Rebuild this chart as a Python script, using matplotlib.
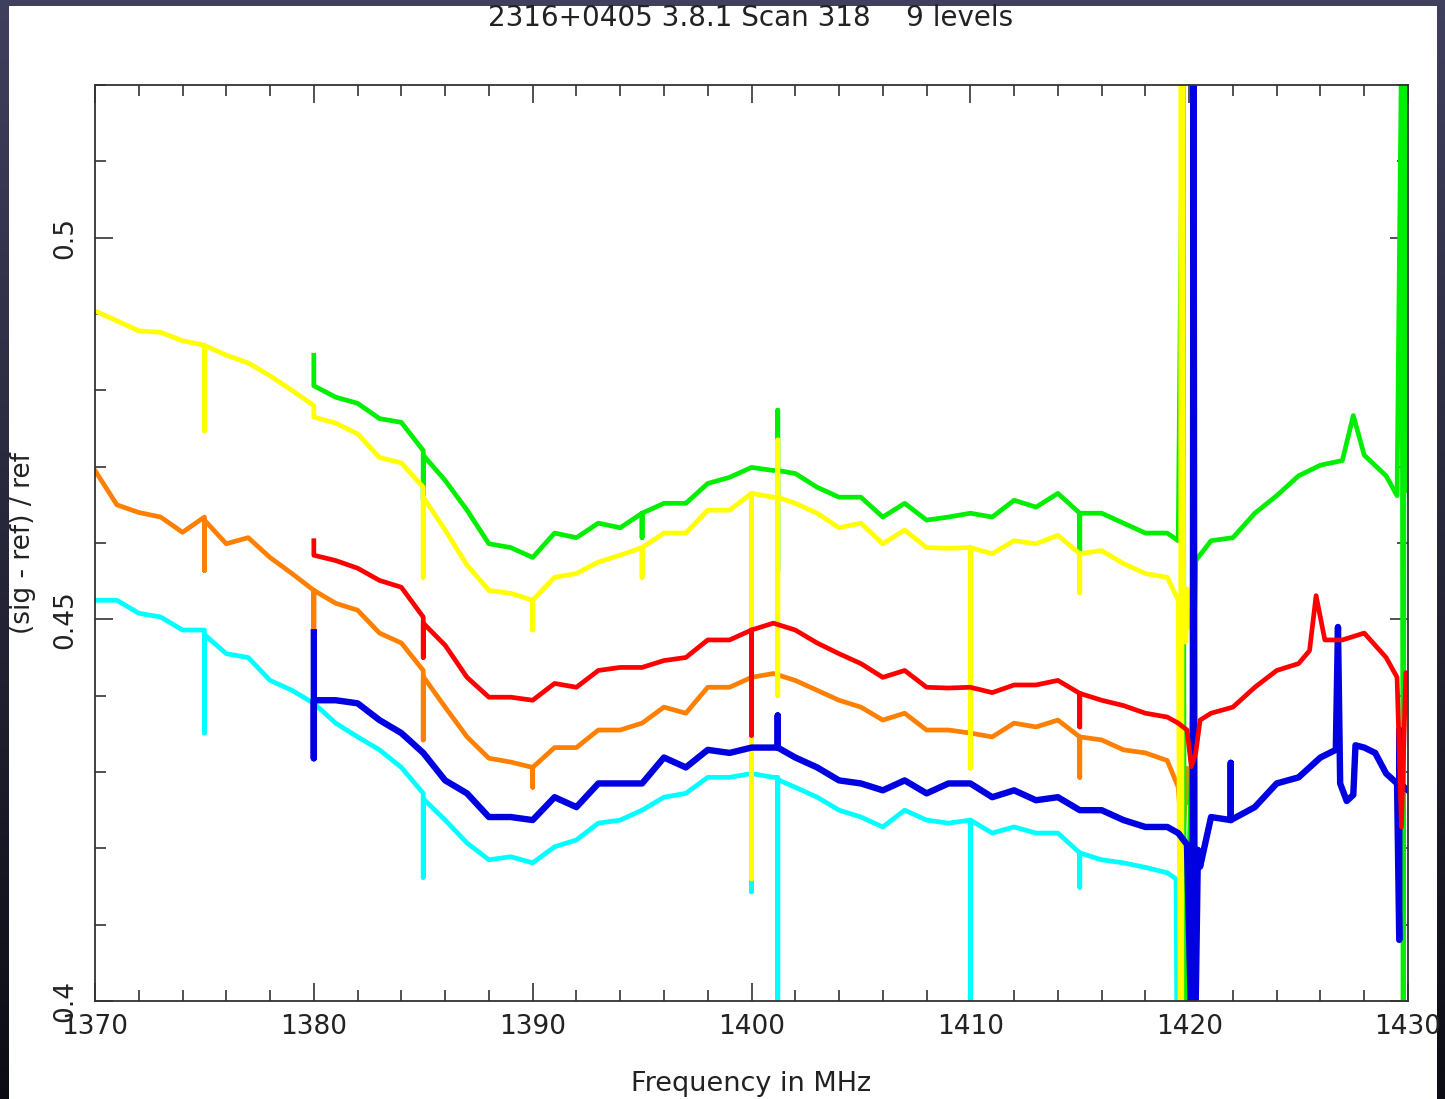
import numpy as np
import matplotlib
matplotlib.use("Agg")
import matplotlib.pyplot as plt
from matplotlib.patches import Rectangle
from matplotlib.ticker import MultipleLocator

# spectra, one list of frequencies (MHz) and one of (sig - ref) / ref per level
# repeated frequencies are the narrow RFI spikes
yellow_mhz = [1370, 1371, 1372, 1373, 1374, 1375, 1375, 1375, 1376, 1377, 1378, 1379,
              1380, 1380, 1381, 1382, 1383, 1384, 1385, 1385, 1385, 1386, 1387, 1388,
              1389, 1390, 1390, 1390, 1391, 1392, 1393, 1394, 1395, 1395, 1395, 1396,
              1397, 1398, 1399, 1400, 1400, 1400, 1401, 1401.2, 1401.2, 1401.2, 1401.2,
              1402, 1403, 1404, 1405, 1406, 1407, 1408, 1409, 1410, 1410, 1410, 1411,
              1412, 1413, 1414, 1415, 1415, 1415, 1416, 1417, 1418, 1419, 1419.5,
              1419.6, 1419.63, 1419.66, 1419.69, 1419.75, 1419.85, 1419.9, 1419.95]
yellow_val = [0.4904, 0.4891, 0.4878, 0.4876, 0.4865, 0.4859, 0.4747, 0.4859, 0.4846,
              0.4836, 0.4819, 0.4800, 0.4780, 0.4765, 0.4757, 0.4743, 0.4712, 0.4705,
              0.4673, 0.4555, 0.4660, 0.4617, 0.4571, 0.4538, 0.4534, 0.4525, 0.4486,
              0.4525, 0.4555, 0.4560, 0.4575, 0.4584, 0.4594, 0.4555, 0.4594, 0.4613,
              0.4613, 0.4643, 0.4643, 0.4665, 0.4160, 0.4665, 0.4660, 0.4660, 0.4735,
              0.4400, 0.4660, 0.4652, 0.4639, 0.4620, 0.4626, 0.4599, 0.4617, 0.4594,
              0.4593, 0.4594, 0.4305, 0.4594, 0.4586, 0.4603, 0.4599, 0.4610, 0.4586,
              0.4535, 0.4586, 0.4590, 0.4573, 0.4560, 0.4555, 0.4525, 0.39, 0.53, 0.39,
              0.53, 0.4510, 0.4470, 0.4540, 0.4490]

green_mhz = [1380, 1380, 1381, 1382, 1383, 1384, 1385, 1385, 1385, 1386, 1387, 1388,
             1389, 1390, 1391, 1392, 1393, 1394, 1395, 1395, 1395, 1396, 1397, 1398,
             1399, 1400, 1401, 1401.2, 1401.2, 1401.2, 1401.2, 1402, 1403, 1404, 1405,
             1406, 1407, 1408, 1409, 1410, 1411, 1412, 1413, 1414, 1415, 1415, 1415,
             1416, 1417, 1418, 1419, 1419.5, 1419.72, 1419.78, 1420.3, 1421, 1422, 1423,
             1424, 1425, 1426, 1427, 1427.5, 1428, 1429, 1429.5, 1429.72, 1429.78,
             1429.84, 1430]
green_val = [0.4846, 0.4806, 0.4791, 0.4783, 0.4763, 0.4758, 0.4721, 0.4656, 0.4715,
             0.4682, 0.4643, 0.4599, 0.4594, 0.4581, 0.4613, 0.4607, 0.4626, 0.4620,
             0.4639, 0.4607, 0.4639, 0.4652, 0.4652, 0.4678, 0.4686, 0.4699, 0.4695,
             0.4695, 0.4774, 0.4563, 0.4695, 0.4691, 0.4673, 0.4660, 0.4660, 0.4634,
             0.4652, 0.4630, 0.4634, 0.4639, 0.4634, 0.4656, 0.4647, 0.4665, 0.4639,
             0.4590, 0.4639, 0.4639, 0.4626, 0.4613, 0.4613, 0.4603, 0.53, 0.39, 0.4577,
             0.4603, 0.4607, 0.4639, 0.4662, 0.4688, 0.4702, 0.4708, 0.4767, 0.4715,
             0.4688, 0.4662, 0.53, 0.39, 0.53, 0.4669]

red_mhz = [1380, 1380, 1381, 1382, 1383, 1384, 1385, 1385, 1385, 1386, 1387, 1388, 1389,
           1390, 1391, 1392, 1393, 1394, 1395, 1396, 1397, 1398, 1399, 1400, 1400, 1400,
           1401, 1402, 1403, 1404, 1405, 1406, 1407, 1408, 1409, 1410, 1411, 1412, 1413,
           1414, 1415, 1415, 1415, 1416, 1417, 1418, 1419, 1419.5, 1419.9, 1420.1, 1420.3,
           1420.5, 1421, 1422, 1423, 1424, 1425, 1425.5, 1425.8, 1426.2, 1427, 1428, 1429,
           1429.5, 1429.7, 1429.9, 1430]
red_val = [0.4603, 0.4584, 0.4577, 0.4567, 0.4551, 0.4542, 0.4503, 0.4450, 0.4495,
           0.4466, 0.4424, 0.4398, 0.4398, 0.4394, 0.4416, 0.4411, 0.4433, 0.4437, 0.4437,
           0.4446, 0.4450, 0.4473, 0.4473, 0.4486, 0.4348, 0.4486, 0.4495, 0.4486, 0.4469,
           0.4455, 0.4442, 0.4424, 0.4433, 0.4411, 0.4410, 0.4411, 0.4404, 0.4414, 0.4414,
           0.4420, 0.4403, 0.4359, 0.4403, 0.4394, 0.4387, 0.4377, 0.4372, 0.4364, 0.4355,
           0.4307, 0.4325, 0.4368, 0.4377, 0.4385, 0.4411, 0.4433, 0.4442, 0.4459, 0.4531,
           0.4473, 0.4473, 0.4482, 0.4450, 0.4424, 0.4228, 0.4430, 0.4430]

orange_mhz = [1370, 1371, 1372, 1373, 1374, 1375, 1375, 1375, 1376, 1377, 1378, 1379,
              1380, 1380, 1380, 1381, 1382, 1383, 1384, 1385, 1385, 1385, 1386, 1387,
              1388, 1389, 1390, 1390, 1390, 1391, 1392, 1393, 1394, 1395, 1396, 1397,
              1398, 1399, 1400, 1401, 1402, 1403, 1404, 1405, 1406, 1407, 1408, 1409,
              1410, 1411, 1412, 1413, 1414, 1415, 1415, 1415, 1416, 1417, 1418, 1419,
              1419.5, 1419.7, 1419.9, 1420]
orange_val = [0.4695, 0.4650, 0.4640, 0.4634, 0.4614, 0.4634, 0.4564, 0.4630, 0.4599,
              0.4607, 0.4581, 0.4560, 0.4538, 0.4482, 0.4538, 0.4521, 0.4512, 0.4482,
              0.4469, 0.4433, 0.4342, 0.4425, 0.4385, 0.4346, 0.4318, 0.4313, 0.4306,
              0.4280, 0.4306, 0.4332, 0.4332, 0.4355, 0.4355, 0.4364, 0.4385, 0.4377,
              0.4411, 0.4411, 0.4424, 0.4429, 0.4420, 0.4407, 0.4394, 0.4385, 0.4368,
              0.4377, 0.4355, 0.4355, 0.4351, 0.4346, 0.4364, 0.4359, 0.4368, 0.4346,
              0.4293, 0.4346, 0.4342, 0.4329, 0.4325, 0.4315, 0.4280, 0.4200, 0.4305,
              0.4260]

blue_mhz = [1380, 1380, 1380, 1381, 1382, 1383, 1384, 1385, 1386, 1387, 1388, 1389, 1390,
            1391, 1392, 1393, 1394, 1395, 1396, 1397, 1398, 1399, 1400, 1401, 1401.2,
            1401.2, 1401.2, 1402, 1403, 1404, 1405, 1406, 1407, 1408, 1409, 1410, 1411,
            1412, 1413, 1414, 1415, 1416, 1417, 1418, 1419, 1419.5, 1419.9, 1420.15,
            1420.2, 1420.25, 1420.4, 1420.5, 1421, 1421.9, 1421.9, 1421.9, 1423, 1424,
            1425, 1426, 1426.7, 1426.8, 1426.9, 1427.2, 1427.5, 1427.6, 1428, 1428.5,
            1429, 1429.5, 1429.6, 1429.6, 1429.6, 1430]
blue_val = [0.4483, 0.4318, 0.4394, 0.4394, 0.4390, 0.4368, 0.4351, 0.4325, 0.4289,
            0.4272, 0.4241, 0.4241, 0.4237, 0.4267, 0.4254, 0.4285, 0.4285, 0.4285,
            0.4319, 0.4306, 0.4329, 0.4325, 0.4332, 0.4332, 0.4332, 0.4374, 0.4332,
            0.4319, 0.4306, 0.4289, 0.4285, 0.4276, 0.4289, 0.4272, 0.4285, 0.4285,
            0.4267, 0.4276, 0.4263, 0.4267, 0.4250, 0.4250, 0.4237, 0.4228, 0.4228,
            0.4220, 0.4205, 0.39, 0.53, 0.39, 0.4198, 0.4176, 0.4241, 0.4237, 0.4312,
            0.4237, 0.4254, 0.4285, 0.4293, 0.4319, 0.4329, 0.4490, 0.4285, 0.4262,
            0.4270, 0.4335, 0.4332, 0.4325, 0.4298, 0.4285, 0.4080, 0.4355, 0.4285,
            0.4276]

cyan_mhz = [1370, 1371, 1372, 1373, 1374, 1375, 1375, 1375, 1376, 1377, 1378, 1379, 1380,
            1381, 1382, 1383, 1384, 1385, 1385, 1385, 1386, 1387, 1388, 1389, 1390, 1391,
            1392, 1393, 1394, 1395, 1396, 1397, 1398, 1399, 1400, 1400, 1400, 1401,
            1401.2, 1401.2, 1401.2, 1402, 1403, 1404, 1405, 1406, 1407, 1408, 1409, 1410,
            1410, 1410, 1411, 1412, 1413, 1414, 1415, 1415, 1415, 1416, 1417, 1418, 1419,
            1419.4, 1419.45, 1419.8, 1419.85]
cyan_val = [0.4525, 0.4525, 0.4508, 0.4503, 0.4486, 0.4486, 0.4351, 0.4480, 0.4455,
            0.4450, 0.4420, 0.4407, 0.4390, 0.4364, 0.4346, 0.4329, 0.4306, 0.4272,
            0.4162, 0.4265, 0.4237, 0.4207, 0.4185, 0.4189, 0.4181, 0.4202, 0.4211,
            0.4233, 0.4237, 0.4250, 0.4267, 0.4272, 0.4293, 0.4293, 0.4298, 0.4143,
            0.4298, 0.4293, 0.4293, 0.39, 0.4290, 0.4280, 0.4267, 0.4250, 0.4241, 0.4228,
            0.4250, 0.4237, 0.4233, 0.4237, 0.39, 0.4237, 0.4220, 0.4228, 0.4220, 0.4220,
            0.4194, 0.4149, 0.4194, 0.4185, 0.4181, 0.4175, 0.4168, 0.4160, 0.39, 0.4165,
            0.4090]

x_ticks = [1370, 1380, 1390, 1400, 1410, 1420, 1430]
y_ticks = [0.4, 0.45, 0.5]
y_tick_labels = ["0.4", "0.45", "0.5"]

ink = "#222222"

fig = plt.figure(figsize=(14.45, 10.99), dpi=100)

# dark window frame behind the white page
bg = fig.add_axes([0, 0, 1, 1])
bg.axis("off")
top_col = np.array([0.25, 0.25, 0.37])
bot_col = np.array([0.05, 0.05, 0.08])
t = np.linspace(0, 1, 256)[:, None, None]
grad = top_col * (1 - t) + bot_col * t
bg.imshow(np.repeat(grad, 4, axis=1), aspect="auto", extent=[0, 1, 0, 1])
bg.set_xlim(0, 1)
bg.set_ylim(0, 1)
bg.add_patch(Rectangle((9 / 1445, 0), 1428 / 1445, 1093 / 1099,
                       facecolor="white", edgecolor="none"))

ax = fig.add_axes([95 / 1445, 98 / 1099, 1313 / 1445, 916 / 1099])
ax.set_facecolor("white")

lw = 3.4
ax.plot(cyan_mhz, cyan_val, color="#00ffff", lw=lw)
ax.plot(orange_mhz, orange_val, color="#ff8000", lw=lw)
ax.plot(green_mhz, green_val, color="#00ee00", lw=lw)
ax.plot(yellow_mhz, yellow_val, color="#ffff00", lw=lw)
ax.plot(blue_mhz, blue_val, color="#0000e0", lw=lw + 1.2)
ax.plot(red_mhz, red_val, color="#ff0000", lw=lw)

ax.set_xlim(1370, 1430)
ax.set_ylim(0.4, 0.52)
ax.set_xticks(x_ticks)
ax.set_yticks(y_ticks)
ax.set_yticklabels(y_tick_labels, rotation=90, va="center")
ax.xaxis.set_minor_locator(MultipleLocator(2))
ax.yaxis.set_minor_locator(MultipleLocator(0.01))

ax.tick_params(which="both", direction="in", top=True, right=True,
               color="#333333", width=1.2, labelcolor=ink)
ax.tick_params(which="major", length=13)
ax.tick_params(which="minor", length=8)
ax.tick_params(axis="x", which="major", labelsize=19, pad=9)
ax.tick_params(axis="y", which="major", labelsize=19, pad=12)
for s in ax.spines.values():
    s.set_linewidth(1.3)
    s.set_color("#333333")

ax.set_xlabel("Frequency in MHz", fontsize=19.5, color=ink)
ax.xaxis.set_label_coords(0.5, -70 / 916)
ax.set_ylabel("(sig - ref) / ref", fontsize=19, color=ink)
ax.yaxis.label.set_va("center")
ax.yaxis.set_label_coords(-72 / 1313, 0.5)
fig.text(751 / 1445, 1 - 18 / 1099, "2316+0405 3.8.1 Scan 318    9 levels",
         ha="center", va="center", fontsize=20, color=ink)

fig.savefig("out.png", dpi=100)
